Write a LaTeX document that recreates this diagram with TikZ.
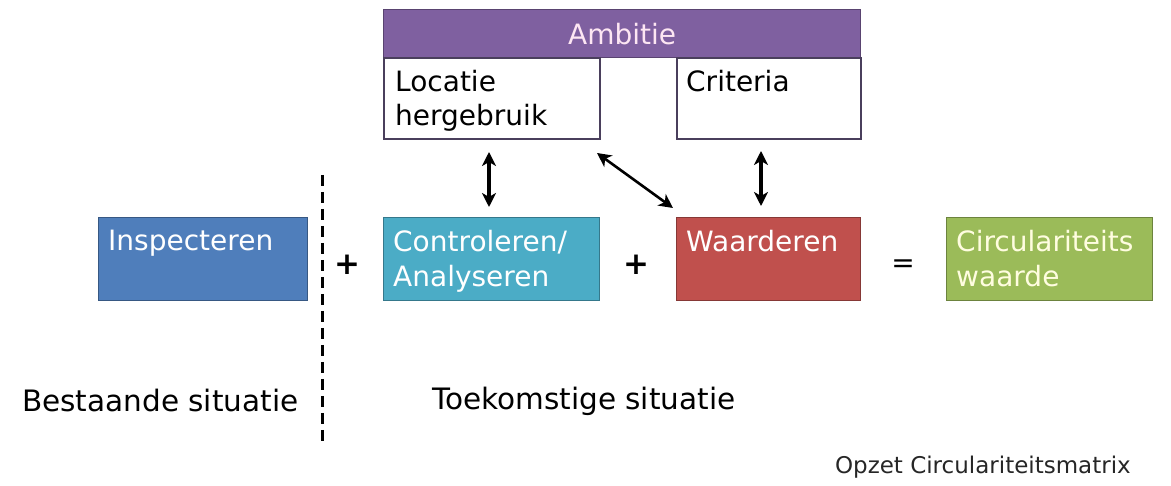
\documentclass[tikz,border=0pt]{standalone}
\usepackage{fontspec}
\setmainfont{DejaVu Sans}
\usetikzlibrary{arrows.meta}
\definecolor{cpurple}{HTML}{7F60A0}
\definecolor{cblue}{HTML}{4F7EBB}
\definecolor{cteal}{HTML}{4BACC6}
\definecolor{cred}{HTML}{C0504D}
\definecolor{cgreen}{HTML}{9BBB59}
\definecolor{cframe}{HTML}{4A3F5C}
\tikzset{
  box/.style={draw=#1!70!black, fill=#1, line width=1.2pt, rectangle, inner sep=0pt},
  wbox/.style={draw=cframe, fill=white, line width=1.6pt, rectangle, inner sep=0pt},
  btxt/.style={anchor=north west, inner sep=0pt, align=left, font=\fontsize{28}{35}\selectfont, text=white},
  ktxt/.style={anchor=north west, inner sep=0pt, align=left, font=\fontsize{28}{34}\selectfont, text=black},
  lbl/.style={inner sep=0pt, font=\fontsize{29.5}{34}\selectfont, text=black},
  op/.style={inner sep=0pt, font=\fontsize{31}{34}\selectfont\bfseries},
  darrow/.style={{Stealth[length=14pt,width=14pt,inset=4pt]}-{Stealth[length=14pt,width=14pt,inset=4pt]}, line width=3.2pt, black},
}
\begin{document}
\begin{tikzpicture}[x=1pt,y=-1pt]
\useasboundingbox (0,0) rectangle (1171,486);
% top boxes
\node[box=cpurple, minimum width=477pt, minimum height=48pt, anchor=north west] (amb) at (383,9) {};
\node[inner sep=0pt, font=\fontsize{28}{34}\selectfont, text=white!90!magenta] (ambt) at (amb.center) {Ambitie};
\node[wbox, minimum width=216pt, minimum height=81pt, anchor=north west] (loc) at (383,57) {};
\node[ktxt] (loct) at (395,70) {Locatie\\hergebruik};
\node[wbox, minimum width=184pt, minimum height=81pt, anchor=north west] (crit) at (676,57) {};
\node[ktxt] (critt) at (686,70) {Criteria};
% middle boxes
\node[box=cblue, minimum width=209pt, minimum height=83pt, anchor=north west] (insp) at (98,217) {};
\node[btxt] (inspt) at (108,230) {Inspecteren};
\node[box=cteal, minimum width=216pt, minimum height=83pt, anchor=north west] (con) at (383,217) {};
\node[btxt] (cont) at (393,230) {Controleren/\\Analyseren};
\node[box=cred, minimum width=184pt, minimum height=83pt, anchor=north west] (waa) at (676,217) {};
\node[btxt] (waat) at (686,230) {Waarderen};
\node[box=cgreen, minimum width=206pt, minimum height=83pt, anchor=north west] (circ) at (946,217) {};
\node[btxt, text=white!88!yellow] (circt) at (956,230) {Circulariteits\\waarde};
% operators
\node[op] (p1) at (347,265) {+};
\node[op] (p2) at (636,265) {+};
\node[inner sep=0pt, font=\fontsize{28}{34}\selectfont] (eq) at (903,266) {=};
% dashed divider
\coordinate (dtop) at (322,175);
\coordinate (dbot) at (322,446);
\draw[line width=3pt, dash pattern=on 11pt off 6pt] (dtop) -- (dbot);
% arrows
\coordinate (a1t) at (489,152);
\coordinate (a1b) at (489,207);
\draw[darrow] (a1t) -- (a1b);
\coordinate (a2t) at (761,151);
\coordinate (a2b) at (761,206);
\draw[darrow] (a2t) -- (a2b);
\coordinate (a3t) at (597,153);
\coordinate (a3b) at (673,208);
\draw[darrow, line width=2.6pt] (a3t) -- (a3b);
% bottom labels
\node[lbl, anchor=west] (best) at (22,401) {Bestaande situatie};
\node[lbl, anchor=west] (toek) at (432,401) {Toekomstige situatie};
\node[inner sep=0pt, anchor=east, font=\fontsize{23}{27}\selectfont, text=black!85] (opz) at (1131,467) {Opzet Circulariteitsmatrix};
\end{tikzpicture}
\end{document}
